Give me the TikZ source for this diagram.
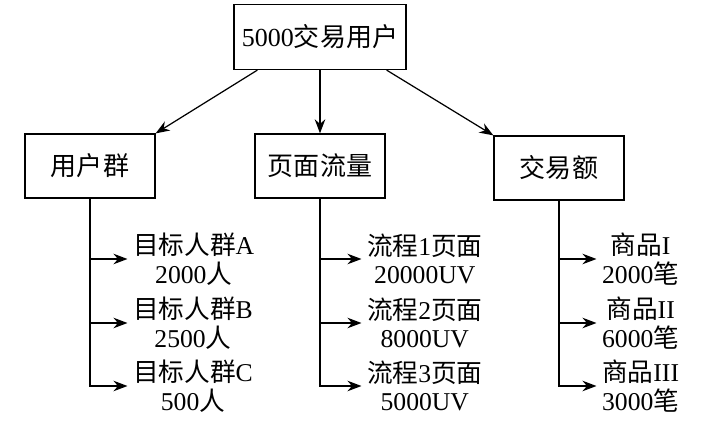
\documentclass[tikz,border=0pt]{standalone}
\usepackage{fontspec}
\setmainfont{Liberation Serif}
\newfontfamily\cjk{Noto Sans CJK SC}
\newcommand{\zh}[1]{{\cjk #1}}
\usetikzlibrary{arrows.meta,positioning}

\begin{document}
\begin{tikzpicture}[
    box/.style={draw, line width=0.7pt, minimum width=2.6cm, minimum height=1.28cm, font=\fontsize{14.8}{17}\selectfont},
    leaf/.style={align=center, anchor=west, inner sep=1pt, font=\fontsize{14.6}{16.2}\selectfont},
    arr/.style={-{Stealth[length=8pt,width=6pt]}, line width=0.7pt}
]
    \useasboundingbox (0,0) rectangle (14.08,-8.46);
    % Draw boxes
    \node[box, minimum width=3.44cm, minimum height=1.3cm] (root) at (6.4,-0.74) {5000\zh{交易用户}};
    \node[box] (users) at (1.8,-3.32) {\zh{用户群}};
    \node[box] (pages) at (6.4,-3.32) {\zh{页面流量}};
    \node[box] (trade) at (11.18,-3.36) {\zh{交易额}};
    % Draw top arrows
    \draw[arr] ([xshift=0.48cm]root.south west) -- (users.north east);
    \draw[arr] (root.south) -- (pages.north);
    \draw[arr] ([xshift=-0.4cm]root.south east) -- (trade.north west);
    % Draw leaves
    \node[leaf] (u1) at (2.62,-5.18) {\zh{目标人群}A\\2000\zh{人}};
    \node[leaf] (u2) at (2.62,-6.46) {\zh{目标人群}B\\2500\zh{人}};
    \node[leaf] (u3) at (2.62,-7.72) {\zh{目标人群}C\\500\zh{人}};
    \node[leaf] (p1) at (7.3,-5.18) {\zh{流程}1\zh{页面}\\20000UV};
    \node[leaf] (p2) at (7.3,-6.46) {\zh{流程}2\zh{页面}\\8000UV};
    \node[leaf] (p3) at (7.3,-7.72) {\zh{流程}3\zh{页面}\\5000UV};
    \node[leaf] (g1) at (12.0,-5.18) {\zh{商品}I\\2000\zh{笔}};
    \node[leaf] (g2) at (12.0,-6.46) {\zh{商品}II\\6000\zh{笔}};
    \node[leaf] (g3) at (12.0,-7.72) {\zh{商品}III\\3000\zh{笔}};
    % Draw branches
    \foreach \col/\leafname in {users/u, pages/p, trade/g} {
        \foreach \i in {1,2,3} {
            \draw[arr, shorten >=2pt] (\col.south) |- (\leafname\i.west);
        }
    }
\end{tikzpicture}
\end{document}
